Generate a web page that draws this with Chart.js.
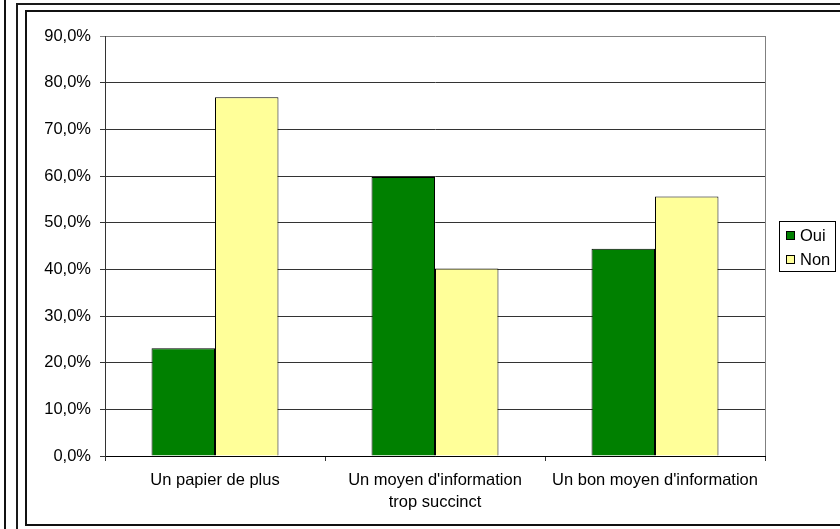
<!DOCTYPE html>
<html>
<head>
<meta charset="utf-8">
<script src="https://cdn.jsdelivr.net/npm/chart.js@4/dist/chart.umd.min.js"></script>
<style>
    html, body { margin: 0; padding: 0; background: #ffffff; overflow: hidden; }
    #page { position: relative; width: 840px; height: 529px; overflow: hidden; }
    .edge { position: absolute; background: #111; }
    #outer { position: absolute; left: 16px; top: 3px; width: 900px; height: 600px;
             border-left: 2px solid #1a1a1a; border-top: 2px solid #1a1a1a; }
    #inner { position: absolute; left: 25px; top: 10px; width: 900px; height: 512px;
             border: 2px solid #111; }
    #wrap { position: absolute; left: 0; top: 0; width: 840px; height: 529px; }
</style>
</head>
<body>
<div id="page">
    <div class="edge" style="left:4px; top:0; width:2px; height:529px;"></div>
    <div id="outer"></div>
    <div id="inner"></div>
    <div id="wrap"><canvas id="chart"></canvas></div>
</div>
<script>
// Chart data
const categories = [
    'Un papier de plus',
    ["Un moyen d'information", 'trop succinct'],
    "Un bon moyen d'information"
];
const seriesNames = ['Oui', 'Non'];
const ouiValues = [23.1, 59.8, 44.4];
const nonValues = [76.9, 40.2, 55.6];
const yTicks = [0, 10, 20, 30, 40, 50, 60, 70, 80, 90];

const FONT = "'Liberation Sans', Arial, sans-serif";

// Legend box drawn at the right, like the Excel one
const sideLegend = {
    id: 'sideLegend',
    afterDraw(chart) {
        const ctx = chart.ctx;
        ctx.save();
        ctx.strokeStyle = '#000';
        ctx.lineWidth = 1;
        ctx.strokeRect(779.5, 221.5, 56, 50);
        ctx.font = '16.5px ' + FONT;
        ctx.textBaseline = 'middle';
        chart.data.datasets.forEach((ds, i) => {
            const y = 231 + i * 24;
            ctx.fillStyle = ds.backgroundColor;
            ctx.fillRect(786, y, 9, 9);
            ctx.strokeRect(786.5, y + 0.5, 8, 8);
            ctx.fillStyle = '#000';
            ctx.fillText(ds.label, 800, y + 5);
        });
        ctx.restore();
    }
};

// Gray frame on the right side of the plot area
const plotFrame = {
    id: 'plotFrame',
    afterDatasetsDraw(chart) {
        const a = chart.chartArea;
        const ctx = chart.ctx;
        ctx.save();
        ctx.strokeStyle = '#808080';
        ctx.lineWidth = 1;
        ctx.beginPath();
        ctx.moveTo(Math.round(a.right) + 0.5, a.top);
        ctx.lineTo(Math.round(a.right) + 0.5, a.bottom);
        ctx.stroke();
        ctx.restore();
    }
};

new Chart(document.getElementById('chart'), {
    type: 'bar',
    data: {
        labels: categories,
        datasets: [
            {
                label: seriesNames[0],
                data: ouiValues,
                backgroundColor: '#008000',
                borderColor: '#000',
                borderWidth: 1,
                barPercentage: 1,
                categoryPercentage: 0.577
            },
            {
                label: seriesNames[1],
                data: nonValues,
                backgroundColor: '#FFFF99',
                borderColor: '#000',
                borderWidth: 1,
                barPercentage: 1,
                categoryPercentage: 0.577
            }
        ]
    },
    options: {
        responsive: true,
        maintainAspectRatio: false,
        animation: false,
        events: [],
        layout: {
            padding: { top: 36, left: 35, right: 75, bottom: 0 }
        },
        plugins: {
            legend: { display: false },
            tooltip: { enabled: false }
        },
        scales: {
            x: {
                afterFit: scale => { scale.height = 73; },
                grid: {
                    offset: true,
                    drawOnChartArea: false,
                    drawTicks: true,
                    tickLength: 5,
                    color: '#333'
                },
                border: { display: true, color: '#000', width: 1 },
                ticks: {
                    color: '#000',
                    font: { family: FONT, size: 16.5, lineHeight: 1.35 },
                    padding: 8,
                    maxRotation: 0,
                    autoSkip: false
                }
            },
            y: {
                min: 0,
                max: 90,
                afterFit: scale => { scale.width = 70; },
                afterBuildTicks: scale => {
                    scale.ticks = yTicks.map(v => ({ value: v }));
                },
                grid: {
                    color: ctx => (ctx.tick && ctx.tick.value === 90 ? '#808080' : '#333'),
                    tickLength: 5,
                    drawTicks: true
                },
                border: { display: true, color: '#333', width: 1 },
                ticks: {
                    color: '#000',
                    font: { family: FONT, size: 16.5 },
                    padding: 9,
                    callback: v => v.toFixed(1).replace('.', ',') + '%'
                }
            }
        }
    },
    plugins: [sideLegend, plotFrame]
});
</script>
</body>
</html>
